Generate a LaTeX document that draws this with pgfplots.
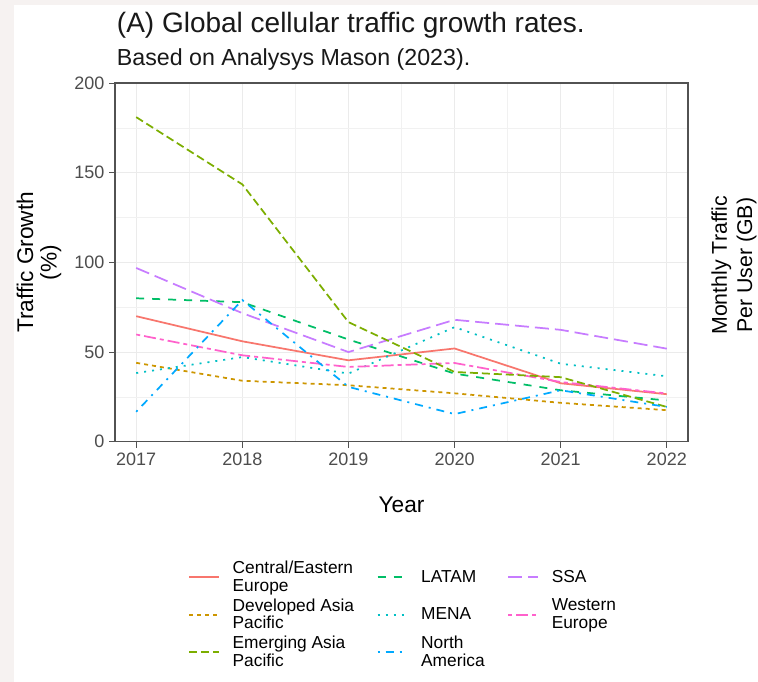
\documentclass[border=0pt]{standalone}
\usepackage{fontspec}
\setmainfont{Liberation Sans}
\usepackage{pgfplots}
\pgfplotsset{compat=1.18}

\definecolor{cee}{HTML}{F8766D}
\definecolor{dap}{HTML}{CD9600}
\definecolor{eap}{HTML}{7CAE00}
\definecolor{latam}{HTML}{00BE67}
\definecolor{mena}{HTML}{00BFC4}
\definecolor{namer}{HTML}{00A9FF}
\definecolor{ssa}{HTML}{C77CFF}
\definecolor{weu}{HTML}{FF61CC}
\definecolor{grey92}{HTML}{EBEBEB}
\definecolor{grey20}{HTML}{333333}
\definecolor{grey30}{HTML}{4D4D4D}
\definecolor{outerbg}{HTML}{F6F2F1}

\begin{document}
\begin{tikzpicture}
\path[use as bounding box] (0,0) rectangle (568.5pt,511.5pt);
\fill[outerbg] (0,0) rectangle (568.5pt,511.5pt);
\fill[white] (10.5pt,0) rectangle (568.5pt,507.75pt);

% title and subtitle
\node[anchor=base west, inner sep=0pt, font=\fontsize{21}{24}\selectfont, text=black!90] at (87.5pt,487pt)
  {(A) Global cellular traffic growth rates.};
\node[anchor=base west, inner sep=0pt, font=\fontsize{17.4}{20}\selectfont, text=black!90] at (87.5pt,462pt)
  {Based on Analysys Mason (2023).};

\begin{axis}[
  at={(86.25pt,180.2pt)}, anchor=south west,
  width=429.75pt, height=269pt, scale only axis,
  xmin=2016.8, xmax=2022.2, ymin=0, ymax=200,
  xtick={2017,2018,2019,2020,2021,2022},
  ytick={0,50,100,150,200},
  minor xtick={2017.5,2018.5,2019.5,2020.5,2021.5},
  minor ytick={25,75,125,175},
  xtick pos=bottom, ytick pos=left,
  grid=both,
  major grid style={draw=grey92, line width=0.8pt},
  minor grid style={draw=grey92!70, line width=0.45pt},
  axis line style={draw=grey20!85, line width=0.9pt},
  tick align=outside,
  major tick length=4.5pt, minor tick length=0pt,
  tick style={draw=grey20!85, line width=0.7pt},
  /pgf/number format/assume math mode=true,
  /pgf/number format/set thousands separator={},
  ticklabel style={font=\fontsize{13.5}{15}\selectfont, text=grey30},
  xlabel={Year},
  xlabel style={at={(axis description cs:0.5,0)}, anchor=center, yshift=-47.4pt,
    font=\fontsize{17}{19}\selectfont},
  ylabel={Traffic Growth\\(\%)},
  ylabel style={at={(axis description cs:0,0.5)}, anchor=center, yshift=57pt,
    align=center, font=\fontsize{17}{17.5}\selectfont},
  legend columns=3,
  legend style={at={(axis description cs:0.1274,-0.3246)}, anchor=north west,
    draw=none, fill=none, inner sep=0pt,
    font=\fontsize{13}{13.2}\selectfont,
    cells={anchor=west, align=left},
    /tikz/every even column/.append style={column sep=15pt}},
  legend image code/.code={\draw[#1] (0pt,0pt) -- (22.5pt,0pt); \path (30pt,0pt);},
  every axis plot/.append style={line width=1.3pt, line cap=butt},
]
\addplot[cee, solid] coordinates {
(2017,70) (2018,56) (2019,45.4) (2020,52) (2021,32.6) (2022,26.5)};
\addlegendentry{Central/Eastern\\Europe}
\addplot[latam, dash pattern=on 6pt off 6pt] coordinates {
(2017,80) (2018,77.8) (2019,57) (2020,38) (2021,28.7) (2022,23)};
\addlegendentry{LATAM}
\addplot[ssa, dash pattern=on 10.5pt off 4.5pt] coordinates {
(2017,96.9) (2018,71.7) (2019,50) (2020,68) (2021,62.4) (2022,51.9)};
\addlegendentry{SSA}
\addplot[dap, dash pattern=on 3pt off 3pt] coordinates {
(2017,44) (2018,34) (2019,31.5) (2020,27) (2021,21.7) (2022,17.6)};
\addlegendentry{Developed Asia\\Pacific}
\addplot[mena, dash pattern=on 1.5pt off 4.5pt] coordinates {
(2017,38.3) (2018,47.2) (2019,38) (2020,63.9) (2021,43.5) (2022,36.5)};
\addlegendentry{MENA}
\addplot[weu, dash pattern=on 3pt off 3pt on 9pt off 3pt] coordinates {
(2017,59.8) (2018,48.2) (2019,41.7) (2020,43.9) (2021,33.3) (2022,26.9)};
\addlegendentry{Western\\Europe}
\addplot[eap, dash pattern=on 6pt off 3pt] coordinates {
(2017,181) (2018,143.5) (2019,66.7) (2020,38.9) (2021,36) (2022,19.4)};
\addlegendentry{Emerging Asia\\Pacific}
\addplot[namer, dash pattern=on 1.5pt off 4.5pt on 6pt off 4.5pt] coordinates {
(2017,16.7) (2018,79) (2019,30.6) (2020,15.4) (2021,28.7) (2022,19.4)};
\addlegendentry{North\\America}
\end{axis}

% secondary axis title on the right
\node[rotate=90, align=center, anchor=center, font=\fontsize{16}{19}\selectfont]
  at (550.5pt,312.5pt) {Monthly Traffic\\Per User (GB)};
\end{tikzpicture}
\end{document}
